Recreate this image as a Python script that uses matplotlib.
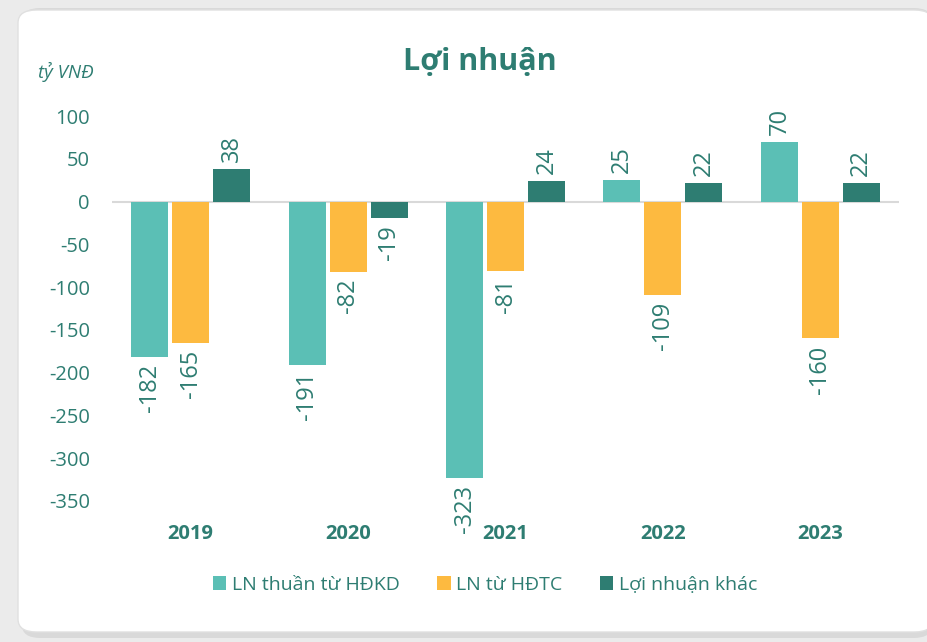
import numpy as np
import matplotlib.pyplot as plt
from matplotlib.patches import FancyBboxPatch

years = ["2019", "2020", "2021", "2022", "2023"]
ln_hdkd = [-182, -191, -323, 25, 70]
ln_hdtc = [-165, -82, -81, -109, -160]
ln_khac = [38, -19, 24, 22, 22]
series_names = ["LN thuần từ HĐKD", "LN từ HĐTC", "Lợi nhuận khác"]
colors = ["#5bbfb5", "#fdba40", "#2e7d72"]
text_color = "#2e7d72"

plt.rcParams['font.family'] = ['Open Sans', 'DejaVu Sans']
plt.rcParams['axes.unicode_minus'] = False

fig = plt.figure(figsize=(9.27, 6.42), dpi=100)
fig.patch.set_facecolor("#ebebeb")

# card background with shadow
shadow = FancyBboxPatch((22 / 927, 4 / 642), 910 / 927, 630 / 642,
                        boxstyle="round,pad=0,rounding_size=0.02",
                        transform=fig.transFigure, facecolor="#d9d9d9",
                        edgecolor="none", zorder=-2)
card = FancyBboxPatch((18 / 927, 10 / 642), 915 / 927, 622 / 642,
                      boxstyle="round,pad=0,rounding_size=0.02",
                      transform=fig.transFigure, facecolor="white",
                      edgecolor="#e0e0e0", linewidth=1, zorder=-1)
fig.patches.extend([shadow, card])

ax = fig.add_axes([112 / 927, (642 - 501) / 642, 787 / 927, 385 / 642])
ax.set_facecolor("none")
ax.set_zorder(2)

x = np.arange(len(years))
w = 0.235
step = 0.26
all_series = [ln_hdkd, ln_hdtc, ln_khac]
for i, (vals, c, name) in enumerate(zip(all_series, colors, series_names)):
    pos = x + (i - 1) * step
    ax.bar(pos, vals, width=w, color=c, label=name, zorder=2)
    for p, v in zip(pos, vals):
        off = 5 if v >= 0 else -5
        ax.annotate(f"{v}", (p, v), xytext=(0, off), textcoords="offset points",
                    rotation=90, ha="center", va="bottom" if v >= 0 else "top",
                    fontsize=17, color=text_color, annotation_clip=False)

ax.axhline(0, color="#d9d9d9", linewidth=1.5, zorder=1)
ax.set_xlim(-0.5, len(years) - 0.5)
ax.set_ylim(-350, 100)
ax.set_yticks(np.arange(-350, 101, 50))
ax.tick_params(axis="y", length=0, labelsize=14.5, labelcolor=text_color, pad=16)
ax.set_xticks([])
for s in ax.spines.values():
    s.set_visible(False)

for xi, yr in zip(x, years):
    ax.text(xi, -0.085, yr, transform=ax.get_xaxis_transform(), ha="center",
            va="center", fontsize=14.5, fontweight="bold", color=text_color)

fig.text(480 / 927, 1 - 62 / 642, "Lợi nhuận", ha="center", va="center",
         fontsize=22, fontweight="bold", color=text_color)
fig.text(38 / 927, 1 - 72 / 642, "tỷ VNĐ", ha="left", va="center",
         fontsize=13.5, style="italic", color=text_color)

fig.legend(loc="center", bbox_to_anchor=(485 / 927, 1 - 585 / 642), ncol=3,
           frameon=False, fontsize=14, labelcolor=text_color,
           handlelength=0.7, handleheight=0.7, handletextpad=0.3,
           columnspacing=1.9)

fig.savefig("out.png", dpi=100)
